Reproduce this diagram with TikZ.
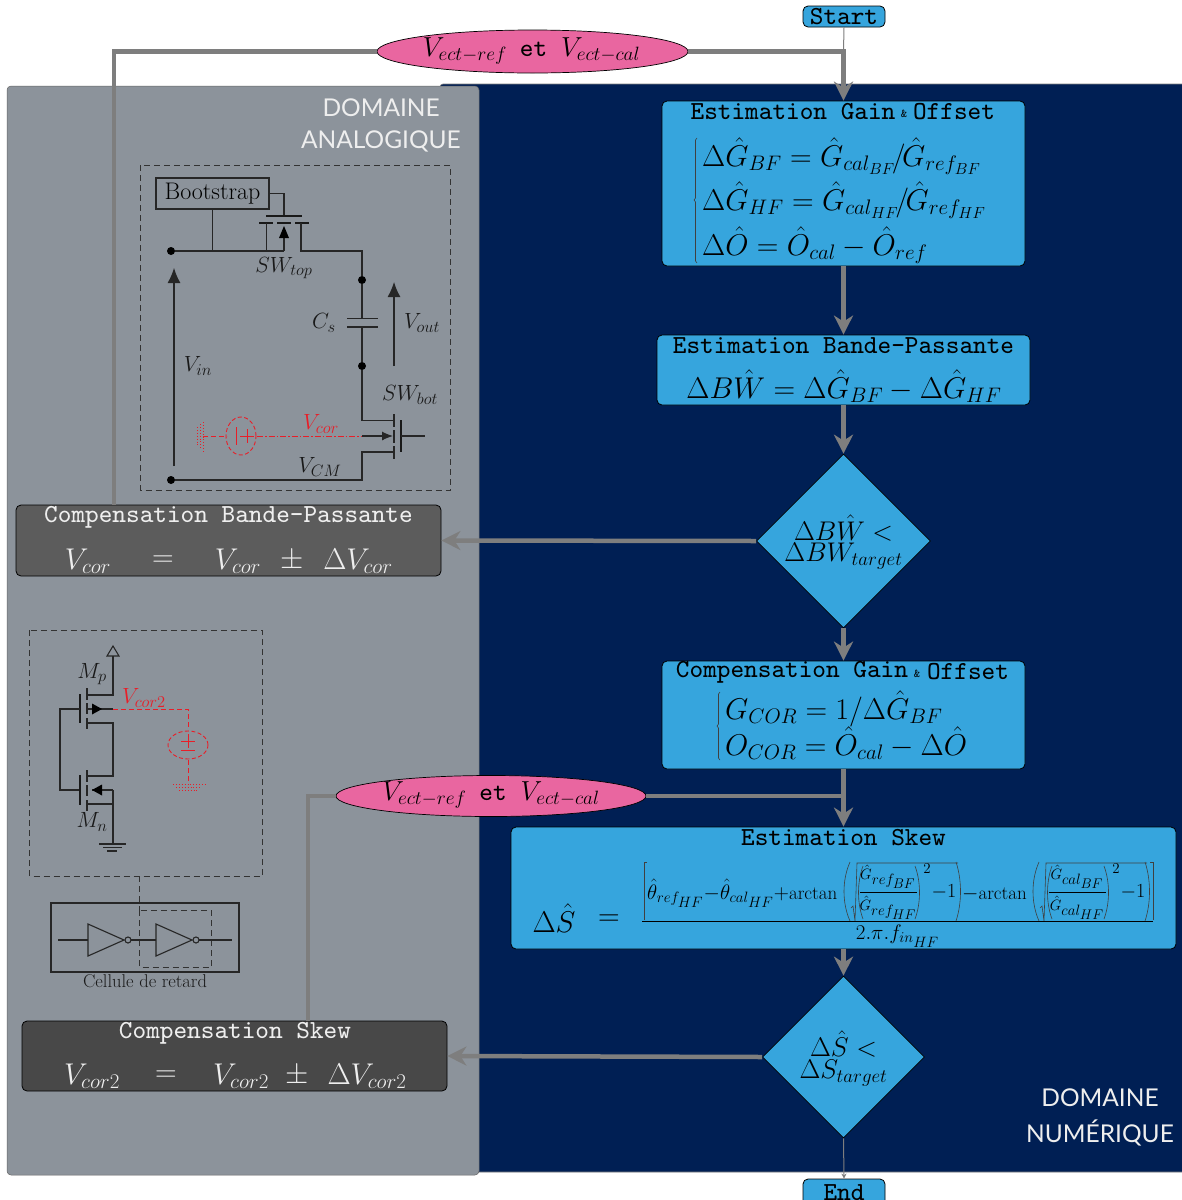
\RequirePackage{fix-cm}
\documentclass[tikz,border=0pt]{standalone}
\usepackage{amsmath}
\usepackage{fontspec}
\newfontfamily\domfont{Lato}
\usetikzlibrary{arrows.meta,shapes.geometric}
\definecolor{navyd}{RGB}{0,31,84}
\definecolor{panelg}{RGB}{140,147,155}
\definecolor{blueb}{RGB}{54,165,221}
\definecolor{pinkp}{RGB}{233,102,160}
\definecolor{flowg}{RGB}{126,126,126}
\definecolor{darka}{RGB}{92,92,92}
\definecolor{darkb}{RGB}{72,72,72}
\definecolor{whitet}{RGB}{238,238,238}
\definecolor{redc}{RGB}{232,30,40}
\newcommand\fsz[1]{\fontsize{#1}{#1}\selectfont}
\font\ttT=cmtt9 at 26pt
\font\ttS=cmtt9 at 12pt
\DeclareMathSizes{30}{30}{21}{16}
\DeclareMathSizes{28}{28}{20}{15}
\DeclareMathSizes{27}{27}{19}{15}
\DeclareMathSizes{22}{22}{16.5}{14}
\DeclareMathSizes{21}{21}{15}{15}
\DeclareMathSizes{15}{15}{15}{14}
\tikzset{
 bluebox/.style={draw=black,fill=blueb,rounded corners=5pt,line width=0.8pt,inner sep=0pt},
 darkbox/.style={draw=black,rounded corners=5pt,line width=0.8pt,inner sep=0pt},
 diam/.style={diamond,aspect=1,draw=black,fill=blueb,inner sep=0pt,line width=0.7pt},
 pill/.style={ellipse,draw=black,fill=pinkp,inner sep=0pt,line width=0.7pt},
 txt/.style={inner sep=0pt,text=black},
 ttitle/.style={txt,font=\ttT},
 wtitle/.style={inner sep=0pt,text=whitet,font=\ttT},
 domlab/.style={inner sep=0pt,text=whitet,font=\fsz{24.5}\domfont},
 eqn/.style={txt,anchor=base west,font=\fsz{30}},
 wmath/.style={inner sep=0pt,text=whitet,font=\fsz{30}},
 diamt/.style={txt,anchor=base,font=\fsz{27}},
 pillt/.style={txt,font=\fsz{27.5}},
 thin delim/.style={draw=black!75,line width=0.6pt},
 flow/.style={draw=flowg,line width=4.5pt},
 flowa/.style={flow,-{Stealth[length=19pt,width=19pt,inset=6pt]}},
 thinf/.style={draw=flowg,line width=1pt},
 wire/.style={draw=black!85,line width=1.1pt},
 thick bar/.style={draw=black!90,line width=1.8pt},
 redw/.style={draw=redc,line width=0.9pt,dash pattern=on 5pt off 3pt},
 dashbox/.style={draw=black!80,line width=1pt,dash pattern=on 6pt off 4pt},
 ctext/.style={inner sep=0pt,text=black!90,font=\fsz{22}},
 redt/.style={inner sep=0pt,text=redc,font=\fsz{22}},
 dotn/.style={circle,fill=black,inner sep=0pt,minimum size=8pt},
 vtip/.style={-{Latex[length=15pt,width=13pt]}},
}
\begin{document}
\begin{tikzpicture}[x=1pt,y=-1pt]
\clip (0,0) rectangle (1182,1200);
\useasboundingbox (0,0) rectangle (1182,1200);
% backgrounds
\fill[white] (0,0) rectangle (1182,1200);
\draw[black!50,fill=navyd,rounded corners=3pt,line width=0.6pt] (440,84) rectangle (1190,1172);
\draw[black!60,fill=panelg,rounded corners=4pt,line width=0.5pt] (7,86) rectangle (479,1175);
\node[domlab,anchor=base east] (dom1) at (440,116) {DOMAINE};
\node[domlab,anchor=base east] (dom2) at (461,148) {ANALOGIQUE};
\node[domlab,anchor=base] (dom3) at (1100,1106) {DOMAINE};
\node[domlab,anchor=base] (dom4) at (1100,1142) {NUMÉRIQUE};
% main nodes
\node[bluebox,minimum width=82pt,minimum height=21pt,font=\ttT] (start) at (844,16.5) {Start};
\node[bluebox,minimum width=82pt,minimum height=28pt,font=\ttT] (endn) at (844,1193) {End};
\node[pill,minimum width=311pt,minimum height=43pt] (p1) at (532.5,51.5) {};
\node[pillt] (p1t) at (531.5,51) {$V_{ect-ref}$\hspace{13pt}{\ttT et}\hspace{14pt}$V_{ect-cal}$};
\node[pill,minimum width=310pt,minimum height=41pt] (p2) at (491,796) {};
\node[pillt] (p2t) at (491,795) {$V_{ect-ref}$\hspace{13pt}{\ttT et}\hspace{14pt}$V_{ect-cal}$};
\node[bluebox,minimum width=363pt,minimum height=165pt] (b1) at (843.5,183.5) {};
\node[bluebox,minimum width=373pt,minimum height=70pt] (b2) at (843.5,370) {};
\node[diam,minimum width=174pt,minimum height=174pt] (d1) at (843.5,541) {};
\node[bluebox,minimum width=363pt,minimum height=108pt] (b3) at (843.5,715) {};
\node[bluebox,minimum width=665pt,minimum height=122pt] (b4) at (843.5,888) {};
\node[diam,minimum width=162pt,minimum height=162pt] (d2) at (843.5,1057) {};
\node[darkbox,fill=darka,minimum width=425pt,minimum height=71pt] (c1) at (228.5,540.5) {};
\node[darkbox,fill=darkb,minimum width=425pt,minimum height=70pt] (c2) at (234.5,1056) {};
% connectors
\coordinate (j1) at (843.5,51.5);
\coordinate (j2) at (843.5,796);
\coordinate (k1) at (114,51.5);
\coordinate (k2) at (308,796);
\draw[thinf] (start.south) -- (j1);
\draw[flowa] (p1.east) -- (j1) -- (b1.north);
\draw[flow] (c1.north -| k1) -- (k1) -- (p1.west);
\draw[flowa] (b1.south) -- (b2.north);
\draw[flowa] (b2.south) -- (d1.north);
\draw[flowa] (d1.west) -- (c1.east);
\draw[flowa] (d1.south) -- (b3.north);
\draw[flowa] (b3.south) -- (b4.north);
\draw[flow] (p2.east) -- (j2);
\draw[flowa] (b4.south) -- (d2.north);
\draw[flowa] (d2.west) -- (c2.east);
\draw[thinf,-{Stealth[length=5pt,width=5pt]}] (d2.south) -- (endn.north);
\draw[flow] (p2.west) -- (k2) -- (c2.north -| k2);
% box 1
\node[ttitle] (t1a) at (793,112) {Estimation Gain};
\node[txt,font=\ttS] (t1b) at (904,114) {\&};
\node[ttitle] (t1c) at (954,112) {Offset};
\draw[thin delim] (697,138) -- (695.5,140) -- (695.5,198) -- (694,200) -- (695.5,202) -- (695.5,261) -- (697,263);
\node[eqn] (e1) at (702,166) {$\Delta\hat G_{BF}=\hat G_{cal_{BF}}\mkern-2mu/\mkern-2mu\hat G_{ref_{BF}}$};
\node[eqn] (e2) at (702,210) {$\Delta\hat G_{HF}=\hat G_{cal_{HF}}\mkern-2mu/\mkern-2mu\hat G_{ref_{HF}}$};
\node[eqn] (e3) at (702,255) {$\Delta\hat O=\hat O_{cal}-\hat O_{ref}$};
% box 2
\node[ttitle] (t2) at (843.5,346) {Estimation Bande-Passante};
\node[txt,anchor=base,font=\fsz{30}] (e4) at (844,398) {$\Delta B\hat W=\Delta\hat G_{BF}-\Delta\hat G_{HF}$};
% diamond 1
\node[diamt] (e5) at (843.5,540) {$\Delta B\hat W<$};
\node[diamt] (e6) at (843.5,561) {$\Delta BW_{target}$};
% box 3
\node[ttitle] (t3a) at (792,672) {Compensation Gain};
\node[txt,font=\ttS] (t3b) at (917,674) {\&};
\node[ttitle] (t3c) at (968,672) {Offset};
\draw[thin delim] (720,692) -- (718.5,694) -- (718.5,724) -- (717,726) -- (718.5,728) -- (718.5,758) -- (720,760);
\node[eqn] (e7) at (725,719) {$G_{COR}=1/\Delta\hat G_{BF}$};
\node[eqn] (e8) at (725,755) {$O_{COR}=\hat O_{cal}-\Delta\hat O$};
% box 4
\node[ttitle] (t4) at (843.5,838) {Estimation Skew};
\node[txt,font=\fsz{30}] (e9) at (554,918) {$\Delta\hat S$};
\node[txt,font=\fsz{30}] (e10) at (609,920) {$=$};
\node[txt,anchor=base west,font=\fsz{21}] (s1) at (647,899) {$\hat\theta_{ref_{HF}}{-}\hat\theta_{cal_{HF}}{+}$\hbox{\fsz{19}arctan}};
\foreach \dx/\nm in {0/ref,189/cal}{
  \draw[thin delim] ({850+\dx},862) .. controls ({842+\dx},880) and ({842+\dx},903) .. ({850+\dx},921);
  \draw[thin delim] ({851+\dx},908) -- ({853+\dx},906) -- ({855+\dx},921) -- ({857+\dx},863) -- ({958+\dx},863);
  \draw[thin delim] ({863+\dx},866) .. controls ({857+\dx},882) and ({857+\dx},903) .. ({863+\dx},919);
  \draw[thin delim] ({915+\dx},866) .. controls ({921+\dx},882) and ({921+\dx},903) .. ({915+\dx},919);
  \draw[thin delim] ({956+\dx},862) .. controls ({962+\dx},880) and ({962+\dx},903) .. ({956+\dx},921);
  \node[txt,font=\fsz{15}] (sn\dx) at ({888+\dx},877) {$\hat G_{\nm_{BF}}$};
  \node[txt,font=\fsz{15}] (sd\dx) at ({888+\dx},908) {$\hat G_{\nm_{HF}}$};
  \draw[black,line width=0.6pt] ({860+\dx},892.5) -- ({917+\dx},892.5);
  \node[txt,font=\fsz{15}] (sp\dx) at ({927+\dx},869) {$2$};
  \node[txt,font=\fsz{20}] (sm\dx) at ({944+\dx},892) {${-}1$};
}
\node[txt,anchor=base west,font=\fsz{21}] (s2) at (962,899) {${-}$\hbox{\fsz{19}arctan}};
\draw[thin delim] (647,862.5) -- (644,862.5) -- (644,920);
\draw[thin delim] (1150,862.5) -- (1153,862.5) -- (1153,920);
\draw[black,line width=0.8pt] (642,921) -- (1153,921);
\node[txt,font=\fsz{21}] (s3) at (897.5,936) {$2.\pi.f_{in_{HF}}$};
% diamond 2
\node[diamt] (e12) at (843.5,1056) {$\Delta\hat S<$};
\node[diamt] (e13) at (843.5,1078) {$\Delta S_{target}$};
% comp 1
\node[wtitle] (t5) at (228.5,517) {Compensation Bande-Passante};
\node[wmath] (e14) at (88,561) {$V_{cor}$};
\node[wmath] (e15) at (163,561) {$=$};
\node[wmath] (e16) at (238,561) {$V_{cor}$};
\node[wmath] (e17) at (292,561) {$\pm$};
\node[wmath] (e18) at (358,561) {$\Delta V_{cor}$};
% comp 2
\node[wtitle] (t6) at (235,1033) {Compensation Skew};
\node[wmath] (e19) at (92,1076) {$V_{cor2}$};
\node[wmath] (e20) at (166,1076) {$=$};
\node[wmath] (e21) at (241,1076) {$V_{cor2}$};
\node[wmath] (e22) at (297,1076) {$\pm$};
\node[wmath] (e23) at (367,1076) {$\Delta V_{cor2}$};
% circuit 1
\draw[dashbox] (140.5,165) rectangle (450,490);
\node[draw=black!85,line width=1.1pt,inner sep=0pt,minimum width=113pt,minimum height=31pt,font=\fsz{24}] (boot) at (212.5,193.5) {\raisebox{-1.5pt}{Bootstrap}};
\node[dotn] (n1) at (171,251) {};
\node[dotn] (n2) at (171,480) {};
\node[dotn] (n3) at (362,280) {};
\node[dotn] (n4) at (362,366) {};
\coordinate (g1) at (284,216);
\draw[wire] (boot.east) -| (g1);
\draw[thick bar] (266,216) -- (302,216);
\draw[thick bar] (259,223) -- (273,223) (277,223) -- (291,223) (295,223) -- (309,223);
\draw[wire] (n1) -- (284,251);
\draw[wire] (266.5,223) -- (266.5,251);
\draw[wire] (284,251) -- (284,238);
\fill[black] (284,226) -- (289,238) -- (279,238) -- cycle;
\draw[wire] (boot.south) -- (212.5,251);
\draw[wire] (301,223) -- (301,251) -- (362,251) -- (n3);
\draw[wire] (n3) -- (362,318) (362,327) -- (n4);
\draw[wire] (347,318.5) -- (378,318.5) (347,327) -- (378,327);
\draw[wire] (n4) -- (362,420.5) -- (393,420.5);
\draw[wire] (n2) -- (362,480) -- (362,452) -- (393,452);
\draw[wire] (394,414) -- (394,427) (394,430) -- (394,443) (394,446) -- (394,459);
\draw[thick bar] (401,420) -- (401,452);
\draw[wire] (401,436) -- (425,436);
\draw[wire,-{Latex[length=11pt,width=9pt]}] (362,436) -- (393,436);
\coordinate (va) at (174,466);
\coordinate (vb) at (174,268);
\coordinate (vc) at (394,366);
\coordinate (vd) at (394,282);
\draw[wire,vtip] (va) -- (vb);
\draw[wire,vtip] (vc) -- (vd);
\node[ctext] (l1) at (284,268) {$SW_{top}$};
\node[ctext] (l2) at (198,366) {$V_{in}$};
\node[ctext] (l3) at (324,323) {$C_s$};
\node[ctext] (l4) at (422,323) {$V_{out}$};
\node[ctext] (l5) at (410,395) {$SW_{bot}$};
\node[ctext] (l6) at (320,467) {$V_{CM}$};
\node[redt] (l7) at (321,424) {$V_{cor}$};
\draw[draw=redc,line width=0.9pt,dash pattern=on 6pt off 2pt on 1.5pt off 2pt] (257,436) -- (362,436);
\draw[redw] (203,436) -- (227,436);
\draw[redc,line width=0.9pt,dash pattern=on 4pt off 2.5pt] (241,436) ellipse (15pt and 19pt);
\draw[redc,line width=0.9pt] (236,427) -- (236,445) (240,436) -- (254,436) (247,429) -- (247,443);
\draw[redc,line width=0.9pt,dotted] (203,422) -- (203,452) (200,424) -- (200,450) (197,427) -- (197,447);
% circuit 2
\draw[dashbox] (29.5,630) rectangle (262,876);
\coordinate (up) at (113,656);
\draw[wire,fill=none] (107,656) -- (119,656) -- (113,646) -- cycle;
\draw[wire] (up) -- (113,695) -- (87,695);
\draw[wire] (87,688) -- (87,700) (87,703) -- (87,714) (87,718) -- (87,729);
\draw[thick bar] (80,694) -- (80,723);
\draw[wire] (80,709) -- (60,709) -- (60,790) -- (80,790);
\draw[wire] (87,709) -- (113,709);
\fill[black] (102,709) -- (92,703.5) -- (92,714.5) -- cycle;
\draw[wire] (87,723) -- (113,723) -- (113,776) -- (87,776);
\draw[wire] (87,770) -- (87,782) (87,785) -- (87,796) (87,800) -- (87,811);
\draw[thick bar] (80,775) -- (80,805);
\draw[wire] (87,804) -- (113,804);
\draw[wire] (113,790) -- (92,790);
\fill[black] (92,790) -- (102,784.5) -- (102,795.5) -- cycle;
\draw[wire] (113,790) -- (113,844);
\draw[wire] (99,844) -- (126,844) (103,847.5) -- (122,847.5) (107,851) -- (117,851);
\node[ctext] (m1) at (92,674) {$M_p$};
\node[ctext] (m2) at (92,822) {$M_n$};
\node[redt] (m3) at (144,698) {$V_{cor2}$};
\draw[redw] (113,709) -- (188,709) -- (188,730);
\draw[redc,line width=0.9pt,dash pattern=on 4pt off 2.5pt] (188,745) ellipse (20pt and 14pt);
\draw[redc,line width=0.9pt] (181,741) -- (195,741) (188,734) -- (188,748) (181,750) -- (195,750);
\draw[redw] (188,760) -- (188,784);
\draw[redc,line width=0.9pt,dotted] (173,784) -- (205,784) (176,787) -- (202,787) (179,790) -- (199,790);
\draw[dashbox] (139.5,876) -- (139.5,910);
\draw[wire] (51,903) rectangle (239,972);
\draw[dashbox] (139.5,910) rectangle (211,967);
\draw[wire] (88,924) -- (88,956) -- (124,940) -- cycle;
\draw[wire] (156,924) -- (156,956) -- (192,940) -- cycle;
\draw[wire] (128,940) circle (3pt) (196,940) circle (3pt);
\draw[wire] (58,940) -- (88,940) (131,940) -- (156,940) (199,940) -- (232,940);
\node[ctext,font=\fsz{18.5}] (cel) at (145,981.5) {Cellule de retard};
\end{tikzpicture}
\end{document}
